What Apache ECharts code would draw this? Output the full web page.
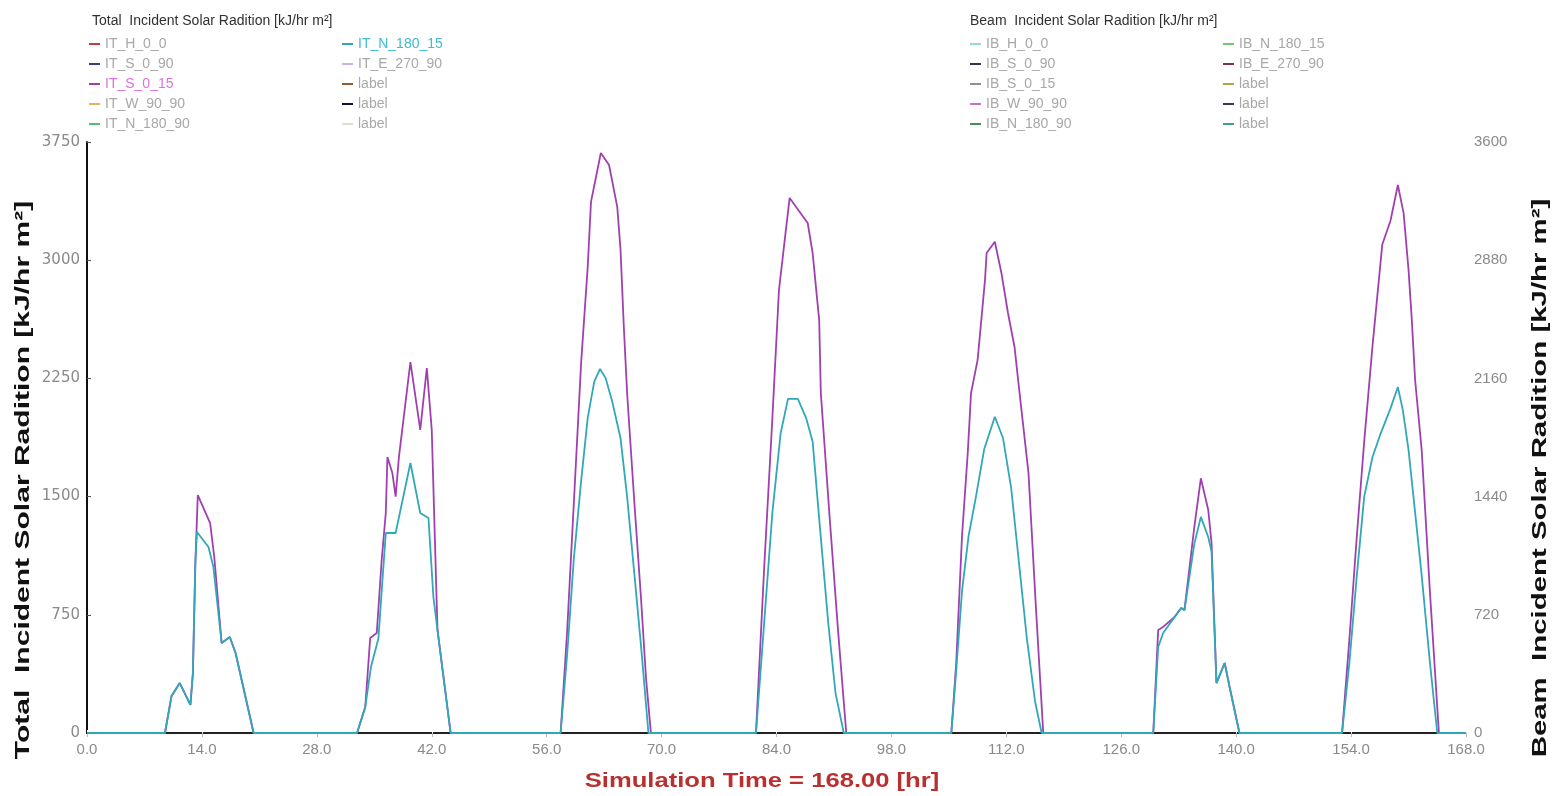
<!DOCTYPE html>
<html>
<head>
<meta charset="utf-8">
<script src="https://cdn.jsdelivr.net/npm/echarts@6/dist/echarts.min.js"></script>
<style>
html,body{margin:0;padding:0;background:#fff;}
#chart{width:1561px;height:796px;}
</style>
</head>
<body>
<div id="chart"></div>
<script>
// ---- data ----
const xTicks = [0, 14, 28, 42, 56, 70, 84, 98, 112, 126, 140, 154, 168];
const leftTicks = [0, 750, 1500, 2250, 3000, 3750];
const rightTicks = [0, 720, 1440, 2160, 2880, 3600];

// IT_S_0_15 (magenta) — hour / value
const magHours = [0,
  9.5,10.3,11.3,12.6,12.9,13.2,13.5,15.0,15.5,16.4,17.4,18.1,20.3,
  32.9,33.9,34.5,35.3,35.9,36.4,36.6,37.2,37.6,38.0,39.4,40.6,41.4,42.0,42.7,44.3,
  57.7,58.5,59.3,60.2,61.0,61.4,62.6,63.6,64.6,65.0,65.4,65.8,66.7,67.5,68.1,68.7,
  81.5,82.5,83.5,84.3,85.0,85.6,87.8,88.4,89.2,89.4,90.5,91.5,92.5,
  105.3,105.9,106.6,107.3,107.7,108.5,109.4,109.6,110.6,111.4,112.2,113.0,113.8,114.7,115.6,116.5,
  129.9,130.5,131.1,132.5,133.3,133.7,134.9,135.7,136.6,137.0,137.6,138.6,139.2,140.4,
  152.9,153.8,154.7,155.6,156.6,157.8,158.8,159.7,160.4,161.0,161.4,161.8,162.6,163.6,164.7,
  168];
const magValues = [0,
  0,235,317,178,380,1080,1510,1332,1120,571,609,508,0,
  0,165,603,634,1098,1396,1751,1650,1500,1751,2354,1923,2316,1923,654,0,
  0,650,1450,2350,2957,3370,3680,3604,3338,3065,2576,2157,1450,850,350,0,
  0,1050,2000,2811,3128,3395,3236,3046,2620,2157,1350,650,0,
  0,450,1250,1777,2157,2367,2874,3046,3117,2919,2665,2449,2069,1650,800,0,
  0,654,673,736,793,780,1307,1616,1415,1205,317,444,292,0,
  0,600,1250,1850,2450,3100,3250,3477,3299,2938,2620,2240,1796,900,0,
  0];

// IT_N_180_15 (teal) — hour / value
const tealHours = [0,
  9.5,10.3,11.3,12.6,12.9,13.2,13.4,14.8,15.4,16.4,17.4,18.1,20.3,
  32.9,33.9,34.6,35.5,35.9,36.4,37.6,39.4,40.6,41.6,42.2,42.7,44.3,
  57.7,58.5,59.3,60.2,61.0,61.8,62.5,63.2,64.0,65.0,65.8,66.7,67.5,68.4,
  81.5,82.5,83.5,84.5,85.4,86.6,87.6,88.4,89.3,90.3,91.2,92.2,
  105.3,105.9,106.6,107.4,108.3,109.3,110.6,111.6,112.6,113.5,114.5,115.5,116.3,
  129.9,130.5,131.1,132.5,133.3,133.7,134.9,135.7,136.6,137.0,137.6,138.6,139.2,140.4,
  152.9,153.8,154.7,155.6,156.6,157.6,158.8,159.7,160.3,161.0,161.8,162.6,163.6,164.5,
  168];
const tealValues = [0,
  0,235,317,178,380,1080,1275,1180,1053,571,609,508,0,
  0,165,420,600,900,1269,1269,1713,1396,1364,863,654,0,
  0,500,1100,1600,2000,2230,2310,2250,2100,1870,1500,1000,550,0,
  0,700,1400,1900,2120,2120,2000,1850,1300,700,250,0,
  0,400,900,1250,1500,1800,2007,1870,1550,1100,600,200,0,
  0,546,634,736,793,780,1200,1371,1244,1150,317,444,292,0,
  0,450,1000,1500,1750,1900,2060,2195,2050,1796,1400,1000,450,0,
  0];

// legend entries
const totalCol1 = ['IT_H_0_0', 'IT_S_0_90', 'IT_S_0_15', 'IT_W_90_90', 'IT_N_180_90'];
const totalCol2 = ['IT_N_180_15', 'IT_E_270_90', 'label#1', 'label#2', 'label#3'];
const beamCol1 = ['IB_H_0_0', 'IB_S_0_90', 'IB_S_0_15', 'IB_W_90_90', 'IB_N_180_90'];
const beamCol2 = ['IB_N_180_15', 'IB_E_270_90', 'label#4', 'label#5', 'label#6'];
const totalColors1 = ['#c83a3a', '#3a3f78', '#a040b0', '#e8b060', '#50c070'];
const totalColors2 = ['#30a8b8', '#c8b0e8', '#8a6030', '#101038', '#e0e0c8'];
const beamColors1 = ['#90d8e8', '#303848', '#909090', '#c870c8', '#409050'];
const beamColors2 = ['#70c870', '#803050', '#a8a848', '#403060', '#40a088'];

function zip(h, v) { return h.map((x, i) => [x, v[i]]); }

const seriesList = [];
function addSeries(names, colors, yIdx) {
  names.forEach((n, i) => {
    let data = [];
    if (n === 'IT_S_0_15') data = zip(magHours, magValues);
    if (n === 'IT_N_180_15') data = zip(tealHours, tealValues);
    seriesList.push({
      name: n, type: 'line', yAxisIndex: yIdx, xAxisIndex: 0,
      data: data, showSymbol: false, symbol: 'none', silent: true,
      itemStyle: { color: colors[i] },
      lineStyle: { color: colors[i], width: 1.8 },
      z: n === 'IT_S_0_15' ? 3 : 4,
      animation: false
    });
  });
}
addSeries(totalCol1, totalColors1, 0);
addSeries(totalCol2, totalColors2, 0);
addSeries(beamCol1, beamColors1, 1);
addSeries(beamCol2, beamColors2, 1);
seriesList.sort((a, b) => a.z - b.z);

const legendText = { color: '#a8a8a8', fontSize: 14, fontFamily: 'Liberation Sans, Arial, sans-serif', lineHeight: 14 };
function legendData(names) {
  return names.map(n => {
    if (n === 'IT_N_180_15') return { name: n, textStyle: { color: '#40bcd0' } };
    if (n === 'IT_S_0_15') return { name: n, textStyle: { color: '#e070e0' } };
    return { name: n };
  });
}
function mkLegend(left, names) {
  return {
    left: left, top: 32, orient: 'vertical', itemGap: 6,
    icon: 'rect', itemWidth: 11, itemHeight: 2,
    textStyle: legendText, selectedMode: false,
    data: legendData(names),
    formatter: n => n.indexOf('label#') === 0 ? 'label' : n
  };
}

const chart = echarts.init(document.getElementById('chart'), null, { renderer: 'canvas' });
const xLabelFont = { color: '#8a8a8a', fontSize: 15, fontFamily: 'Liberation Sans, Arial, sans-serif' };
const leftLabelFont = { color: '#8a8a8a', fontSize: 15, fontFamily: 'DejaVu Sans, sans-serif' };
const rightLabelFont = { color: '#8a8a8a', fontSize: 15, fontFamily: 'Liberation Sans, Arial, sans-serif' };
chart.setOption({
  animation: false,
  backgroundColor: '#ffffff',
  title: [
    { text: 'Total  Incident Solar Radition [kJ/hr m²]', left: 87, top: 9,
      textStyle: { color: '#303030', fontSize: 14, fontWeight: 'normal', fontFamily: 'Liberation Sans, Arial, sans-serif' } },
    { text: 'Beam  Incident Solar Radition [kJ/hr m²]', left: 965, top: 9,
      textStyle: { color: '#303030', fontSize: 14, fontWeight: 'normal', fontFamily: 'Liberation Sans, Arial, sans-serif' } }
  ],
  legend: [
    mkLegend(84, totalCol1), mkLegend(337, totalCol2),
    mkLegend(965, beamCol1), mkLegend(1218, beamCol2)
  ],
  grid: { left: 87, right: 95, top: 142, bottom: 63 },
  xAxis: [
    { type: 'value', min: 0, max: 168, interval: 14, position: 'bottom',
      axisLine: { lineStyle: { color: '#000', width: 2 } },
      axisTick: { show: true, inside: true, length: 3, lineStyle: { color: '#fff' } },
      splitLine: { show: false },
      axisLabel: Object.assign({ margin: 9, formatter: v => v.toFixed(1) }, xLabelFont) },
    { type: 'value', min: 0, max: 168, interval: 14, position: 'top',
      axisLine: { lineStyle: { color: '#222', width: 2 } },
      axisTick: { show: true, inside: true, length: 4, lineStyle: { color: '#bbb' } },
      splitLine: { show: false }, axisLabel: { show: false } }
  ],
  yAxis: [
    { type: 'value', min: 0, max: 3750, interval: 750, position: 'left',
      axisLine: { show: true, lineStyle: { color: '#000', width: 1.5 } },
      axisTick: { show: false },
      splitLine: { show: false },
      axisLabel: Object.assign({ margin: 7, formatter: v => String(v) }, leftLabelFont) },
    { type: 'value', min: 0, max: 3600, interval: 720, position: 'right',
      axisLine: { show: true, lineStyle: { color: '#000', width: 1.5 } },
      axisTick: { show: true, length: 4, lineStyle: { color: '#555' } },
      splitLine: { show: false },
      axisLabel: Object.assign({ margin: 8, formatter: v => String(v) }, rightLabelFont) }
  ],
  graphic: [
    { type: 'text', x: 23, y: 480, rotation: Math.PI / 2, scaleX: 1.43,
      style: { text: 'Total  Incident Solar Radition [kJ/hr m²]', fill: '#111', font: 'bold 21px Liberation Sans, Arial, sans-serif', textAlign: 'center', textVerticalAlign: 'middle' } },
    { type: 'text', x: 1540, y: 478, rotation: Math.PI / 2, scaleX: 1.40,
      style: { text: 'Beam  Incident Solar Radition [kJ/hr m²]', fill: '#111', font: 'bold 21px Liberation Sans, Arial, sans-serif', textAlign: 'center', textVerticalAlign: 'middle' } },
    { type: 'text', x: 762, y: 781, scaleX: 1.28,
      style: { text: 'Simulation Time = 168.00 [hr]', fill: '#b83030', font: 'bold 20px Liberation Sans, Arial, sans-serif', textAlign: 'center', textVerticalAlign: 'middle' } }
  ],
  series: seriesList
});
</script>
</body>
</html>
